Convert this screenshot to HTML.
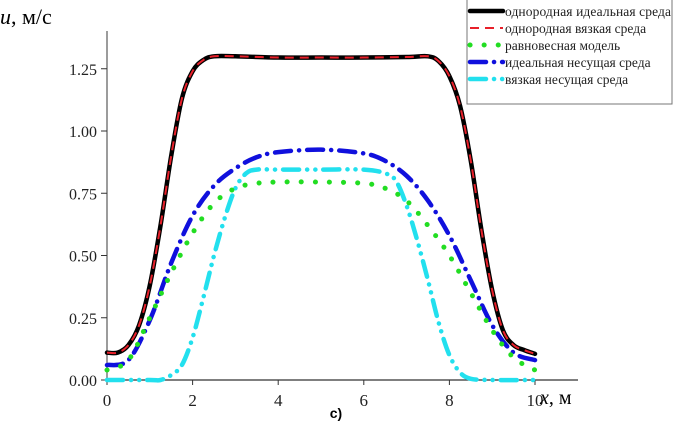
<!DOCTYPE html>
<html><head><meta charset="utf-8"><style>
body{margin:0;background:#fff}
svg{display:block;font-family:"Liberation Serif",serif}
</style></head><body>
<svg id="chart" width="673" height="440" viewBox="0 0 673 440">
<g id="axes"></g>
<g id="series"></g>
<text x="0" y="24" font-size="22"><tspan font-style="italic">u</tspan>, м/с</text>
<text x="540" y="404" font-size="20"><tspan font-style="italic">x</tspan>, м</text>
<text x="336" y="418" font-size="14" font-weight="bold" font-family="Liberation Sans,sans-serif" text-anchor="middle">c)</text>
<g id="legend"></g>
</svg>
<script>
const xTicks=[0,2,4,6,8,10];
const yTicks=[0,0.25,0.5,0.75,1.0,1.25];
const yTickLabels=["0.00","0.25","0.50","0.75","1.00","1.25"];
const seriesNames=["однородная идеальная среда","однородная вязкая среда","равновесная модель","идеальная несущая среда","вязкая несущая среда"];
const blackX=[0,0.25,0.5,0.75,1,1.25,1.5,1.75,2,2.25,2.5,3,4,5,6,7,7.5,7.75,8,8.25,8.5,8.75,9,9.25,9.5,9.75,10];
const blackY=[0.11,0.11,0.14,0.22,0.38,0.62,0.9,1.13,1.24,1.285,1.3,1.3,1.295,1.295,1.295,1.297,1.3,1.28,1.22,1.1,0.88,0.6,0.36,0.2,0.14,0.12,0.105];
const blueX=[0,0.5,1,1.5,2,2.5,3,3.5,4,5,6,6.5,7,7.5,8,8.5,9,9.5,10];
const blueY=[0.06,0.08,0.24,0.47,0.66,0.78,0.85,0.895,0.915,0.925,0.91,0.88,0.82,0.72,0.58,0.4,0.22,0.11,0.08];
const greenX=[0,0.5,1,1.5,2,2.5,3,3.5,4,5,6,6.5,7,7.5,8,8.5,9,9.5,10];
const greenY=[0.04,0.08,0.25,0.43,0.59,0.71,0.77,0.79,0.795,0.795,0.79,0.77,0.72,0.62,0.5,0.35,0.2,0.09,0.04];
const cyanX=[0,1,1.25,1.5,1.75,2,2.25,2.5,2.75,3,3.25,3.5,4,5,6,6.5,6.75,7,7.25,7.5,7.75,8,8.25,8.5,9,10];
const cyanY=[0,0,0,0.02,0.06,0.17,0.33,0.5,0.65,0.77,0.83,0.845,0.845,0.845,0.845,0.83,0.8,0.7,0.56,0.4,0.23,0.1,0.03,0.005,0,0];
const NS="http://www.w3.org/2000/svg";
const X0=107,XS=42.8,Y0=380,YS=249;
const sx=v=>X0+v*XS, sy=v=>Y0-v*YS;
function mk(tag,attrs,parent){const e=document.createElementNS(NS,tag);for(const k in attrs)e.setAttribute(k,attrs[k]);parent.appendChild(e);return e;}
const axes=document.getElementById('axes');
let a=mk('line',{x1:X0,y1:31,x2:X0,y2:Y0,stroke:'#666','stroke-width':1.3},axes);


a=mk('line',{x1:X0,y1:Y0,x2:578,y2:Y0,stroke:'#333','stroke-width':1.3},axes);


xTicks.forEach(t=>{
 const l=mk('line',{x1:sx(t),y1:Y0,x2:sx(t),y2:Y0+5,stroke:'#333'},axes);
 
 
 const tx=mk('text',{x:sx(t),y:Y0+26,'font-size':17,'text-anchor':'middle',fill:'#222'},axes);
 tx.textContent=t;
 
 
});
yTicks.forEach((t,i)=>{
 const l=mk('line',{x1:X0-6,y1:sy(t),x2:X0,y2:sy(t),stroke:'#333'},axes);
 
 
 const tx=mk('text',{x:X0-10,y:sy(t)+6,'font-size':16,'text-anchor':'end',fill:'#222'},axes);
 tx.textContent=yTickLabels[i];
 
 
});
const styles=[
 {c:'#000',w:4.5,d:'',cap:'round'},
 {c:'#e8202a',w:2,d:'9 6',cap:'butt'},
 {c:'#22dd22',w:5,d:'0.1 14',cap:'round'},
 {c:'#1010dd',w:4.5,d:'16 8 0.1 8',cap:'round'},
 {c:'#22e0ee',w:4.5,d:'16 8 0.1 8 0.1 8',cap:'round'}];
const data=[[blackX,blackY],[blackX,blackY],[greenX,greenY],[blueX,blueY],[cyanX,cyanY]];
const ser=document.getElementById('series');
const order=[0,1,3,4,2];
order.forEach(i=>{
 const [xs,ys]=data[i];
 const p=xs.map((x,k)=>[sx(x),sy(ys[k])]);
 let d='M'+p[0][0]+','+p[0][1];
 for(let k=0;k<p.length-1;k++){
  const p0=p[Math.max(k-1,0)],p1=p[k],p2=p[k+1],p3=p[Math.min(k+2,p.length-1)];
  d+=' C'+(p1[0]+(p2[0]-p0[0])/6)+','+(p1[1]+(p2[1]-p0[1])/6)+' '+(p2[0]-(p3[0]-p1[0])/6)+','+(p2[1]-(p3[1]-p1[1])/6)+' '+p2[0]+','+p2[1];
 }
 const s=styles[i];
 const pa=mk('path',{d:d,fill:'none',stroke:s.c,'stroke-width':s.w,'stroke-dasharray':s.d,'stroke-linecap':s.cap},ser);
 
 
});
const lg=document.getElementById('legend');
const box=mk('rect',{x:467,y:-1,width:205,height:105,fill:'#fff',stroke:'#777'},lg);


seriesNames.forEach((n,i)=>{
 const y=11+i*17,s=styles[i];
 const l=mk('line',{x1:470,y1:y,x2:503,y2:y,stroke:s.c,'stroke-width':s.w,'stroke-dasharray':s.d,'stroke-linecap':s.cap},lg);
 
 
 const t=mk('text',{x:505,y:y+5,'font-size':13.5,fill:'#222',textLength:n===seriesNames[0]?166:null},lg);
 if(n!==seriesNames[0])t.removeAttribute('textLength');
 t.textContent=n;
 
 
});
</script>
</body></html>
